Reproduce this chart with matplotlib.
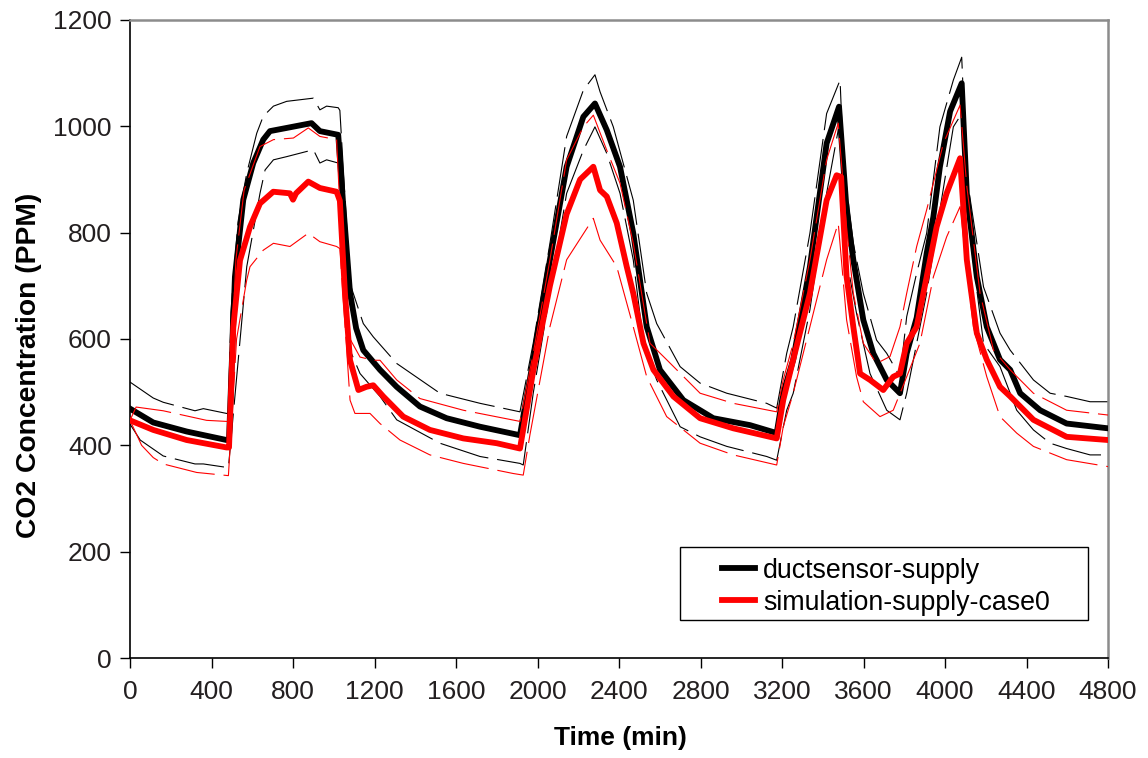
import matplotlib
matplotlib.use("Agg")
import matplotlib.pyplot as plt
from matplotlib.patches import Rectangle

plt.rcParams['font.family'] = ['Liberation Sans', 'DejaVu Sans']

# ductsensor-supply (thick black)
duct_t = [0, 114, 278, 474, 486, 515, 556, 605, 654, 687, 769, 891, 932, 1022, 1045,
          1080, 1110, 1145, 1227, 1309, 1423, 1554, 1718, 1914, 1979, 2061, 2143, 2225,
          2282, 2340, 2405, 2470, 2536, 2601, 2716, 2863, 3043, 3174, 3206, 3255, 3337,
          3419, 3480, 3517, 3550, 3599, 3648, 3714, 3779, 3812, 3861, 3910, 3943, 3975,
          4025, 4082, 4107, 4156, 4205, 4270, 4320, 4369, 4467, 4597, 4800]
duct_ppm = [469, 443, 426, 410, 410, 717, 862, 931, 975, 991, 997, 1006, 991, 984, 860,
            686, 620, 579, 542, 510, 473, 451, 435, 419, 560, 749, 924, 1018,
            1043, 993, 924, 799, 623, 542, 485, 451, 438, 423, 498, 561, 736,
            968, 1037, 843, 749, 636, 573, 523, 498, 573, 640, 761, 830, 924,
            1028, 1081, 874, 717, 623, 561, 542, 498, 466, 441, 432]

# simulation-supply-case0 (thick red)
sim_t = [0, 114, 278, 474, 486, 507, 540, 589, 638, 703, 785, 800, 815, 875, 932,
         1014, 1030, 1055, 1080, 1121, 1160, 1194, 1243, 1341, 1472, 1636, 1800, 1914,
         1979, 2061, 2143, 2209, 2274, 2307, 2340, 2389, 2438, 2470, 2520, 2569, 2667,
         2798, 2961, 3174, 3206, 3255, 3337, 3419, 3468, 3490, 3517, 3550, 3583, 3632,
         3697, 3746, 3779, 3812, 3861, 3910, 3959, 4008, 4074, 4107, 4156, 4205, 4270,
         4320, 4434, 4597, 4800]
sim_ppm = [447, 429, 410, 396, 396, 623, 748, 811, 855, 877, 874, 862, 874, 896, 884,
           877, 860, 686, 560, 504, 510, 513, 492, 454, 429, 413, 404, 394,
           540, 700, 835, 900, 924, 880, 868, 818, 736, 686, 592, 542, 492,
           451, 432, 413, 485, 561, 686, 861, 908, 905, 717, 623, 535, 523,
           504, 529, 535, 592, 623, 717, 811, 874, 940, 749, 611, 561, 510,
           492, 448, 416, 410]

# thin black bounds
duct_hi_t = [0, 114, 163, 319, 360, 474, 483, 495, 530, 573, 622, 654, 704, 769, 900,
             932, 965, 1022, 1030, 1080, 1145, 1194, 1309, 1521, 1718, 1914, 1979, 2061,
             2143, 2225, 2282, 2307, 2372, 2470, 2536, 2585, 2700, 2798, 2929, 3125,
             3174, 3223, 3255, 3337, 3419, 3485, 3501, 3550, 3599, 3664, 3714, 3779,
             3812, 3861, 3910, 3975, 4041, 4082, 4107, 4189, 4270, 4320, 4434, 4516,
             4597, 4712, 4800]
duct_hi_ppm = [519, 489, 481, 465, 469, 460, 460, 650, 820, 912, 987, 1019, 1038, 1047, 1053,
               1031, 1038, 1035, 1030, 704, 629, 604, 554, 498, 479, 463, 592, 780,
               981, 1068, 1097, 1065, 999, 861, 686, 629, 548, 517, 498, 479,
               470, 573, 623, 799, 1024, 1087, 937, 780, 686, 598, 573, 529,
               642, 724, 799, 999, 1087, 1130, 905, 698, 611, 579, 523, 498,
               492, 482, 482]
duct_lo_t = [0, 50, 114, 163, 319, 360, 483, 573, 638, 663, 704, 769, 900, 932, 965,
             1022, 1030, 1080, 1129, 1227, 1309, 1521, 1718, 1914, 1930, 1979, 2061,
             2143, 2225, 2282, 2340, 2405, 2470, 2520, 2585, 2700, 2798, 2929, 3125,
             3174, 3223, 3255, 3337, 3419, 3485, 3517, 3566, 3632, 3714, 3779, 3812,
             3861, 3910, 3975, 4041, 4082, 4107, 4189, 4270, 4352, 4434, 4516, 4597,
             4712, 4800]
duct_lo_ppm = [440, 410, 393, 380, 365, 365, 358, 736, 874, 918, 937, 943, 956, 931, 937,
               931, 925, 579, 535, 492, 448, 404, 379, 366, 363, 498, 686,
               874, 955, 999, 949, 874, 749, 592, 523, 435, 416, 398, 379,
               372, 466, 498, 655, 874, 1012, 749, 648, 535, 466, 448, 498,
               592, 686, 843, 999, 1024, 843, 592, 548, 466, 429, 404, 394,
               382, 382]

# thin red bounds
sim_hi_t = [0, 30, 163, 376, 474, 483, 520, 560, 638, 704, 802, 875, 932, 1014, 1050,
            1080, 1129, 1194, 1227, 1309, 1423, 1636, 1914, 1979, 2061, 2143, 2225,
            2274, 2340, 2405, 2470, 2552, 2634, 2798, 2961, 3174, 3206, 3255, 3337,
            3419, 3476, 3517, 3550, 3599, 3664, 3730, 3779, 3812, 3861, 3910, 3992,
            4074, 4107, 4172, 4238, 4320, 4434, 4597, 4800]
sim_hi_ppm = [447, 472, 465, 447, 445, 445, 750, 880, 962, 975, 978, 997, 981, 975, 686,
              600, 566, 560, 560, 523, 488, 466, 445, 573, 749, 937, 999,
              1021, 955, 893, 780, 592, 561, 498, 479, 463, 523, 592, 749,
              937, 1006, 811, 686, 592, 554, 567, 623, 686, 774, 843, 968,
              1040, 887, 686, 579, 542, 498, 466, 457]
sim_lo_t = [0, 57, 114, 163, 327, 483, 523, 573, 589, 654, 704, 785, 875, 932, 1014,
            1030, 1080, 1104, 1178, 1227, 1325, 1472, 1636, 1881, 1930, 1963, 2061,
            2143, 2274, 2307, 2389, 2470, 2536, 2634, 2798, 2961, 3174, 3206, 3255,
            3337, 3419, 3476, 3517, 3566, 3599, 3681, 3746, 3812, 3877, 3943, 4008,
            4074, 4139, 4205, 4270, 4352, 4434, 4597, 4800]
sim_lo_ppm = [447, 400, 377, 365, 349, 343, 600, 711, 736, 767, 780, 774, 799, 783, 774,
              770, 485, 460, 460, 441, 410, 382, 366, 347, 344, 420, 623,
              749, 827, 786, 736, 623, 529, 454, 404, 382, 363, 435, 498,
              623, 749, 818, 636, 529, 482, 454, 466, 529, 592, 717, 792,
              849, 623, 529, 454, 423, 398, 373, 360]

x_ticks = list(range(0, 4801, 400))
y_ticks = list(range(0, 1201, 200))

fig = plt.figure(figsize=(11.48, 7.58), dpi=100)
ax = fig.add_axes([130 / 1148, 1 - 658 / 758, 978 / 1148, 638 / 758])

thin_dash = (0, (45, 8))
ax.plot(duct_t, duct_ppm, color='black', lw=4.2, solid_joinstyle='round',
        label='ductsensor-supply', zorder=3)
ax.plot(duct_hi_t, duct_hi_ppm, color='black', lw=0.8, ls=thin_dash, zorder=2)
ax.plot(duct_lo_t, duct_lo_ppm, color='black', lw=0.8, ls=thin_dash, zorder=2)
ax.plot(sim_hi_t, sim_hi_ppm, color='#ff0000', lw=0.8, ls=thin_dash, zorder=4)
ax.plot(sim_lo_t, sim_lo_ppm, color='#ff0000', lw=0.8, ls=thin_dash, zorder=4)
ax.plot(sim_t, sim_ppm, color='#ff0000', lw=4.2, solid_joinstyle='round',
        label='simulation-supply-case0', zorder=5)

ax.set_xlim(0, 4800)
ax.set_ylim(0, 1200)
ax.set_xticks(x_ticks)
ax.set_yticks(y_ticks)
ax.tick_params(direction='out', length=7, width=1, labelsize=19,
               labelcolor='#231f20')
ax.tick_params(axis='x', pad=9)
ax.tick_params(axis='y', pad=6)

for side in ['left', 'bottom']:
    ax.spines[side].set_color('black')
    ax.spines[side].set_linewidth(1.2)
for side in ['top', 'right']:
    ax.spines[side].set_color('#8c8c8c')
    ax.spines[side].set_linewidth(1.8)

ax.set_xlabel('Time (min)', fontsize=19, fontweight='bold')
ax.set_ylabel('CO2 Concentration (PPM)', fontsize=20.3, fontweight='bold')
ax.xaxis.set_label_coords(0.501, -0.106)
ax.yaxis.set_label_coords(-0.090, 0.459)

# legend box drawn separately so the wide side margins match
ax.add_patch(Rectangle((0.5624, 0.0596), 0.4172, 0.1144, transform=ax.transAxes,
                       facecolor='white', edgecolor='black', lw=1.0, zorder=6))
leg = ax.legend(loc='upper left', bbox_to_anchor=(0.605, 0.157), fontsize=19.3,
                frameon=False, handlelength=1.25, handletextpad=0.3,
                borderpad=0, labelspacing=0.22, borderaxespad=0)
leg.set_zorder(7)
for line in leg.get_lines():
    line.set_linewidth(4.2)

fig.savefig('out.png', dpi=100)
